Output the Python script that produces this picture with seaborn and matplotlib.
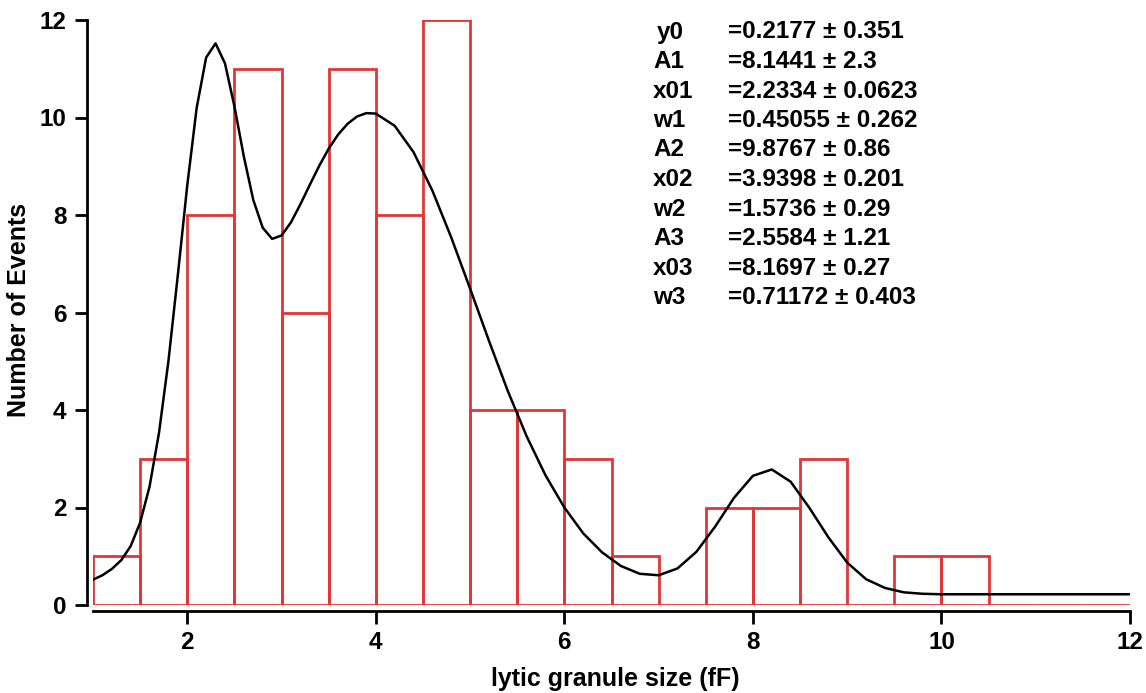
import numpy as np
import pandas as pd
import matplotlib
matplotlib.use("Agg")
import matplotlib.pyplot as plt
import seaborn as sns

# ---- data ----
bin_edges = [1.0, 1.5, 2.0, 2.5, 3.0, 3.5, 4.0, 4.5, 5.0, 5.5, 6.0, 6.5, 7.0,
             7.5, 8.0, 8.5, 9.0, 9.5, 10.0, 10.5, 11.0, 11.5, 12.0]
bin_counts = [1, 3, 8, 11, 6, 11, 8, 12, 4, 4, 3, 1, 0,
              2, 2, 3, 0, 1, 1, 0, 0, 0]

fit_x = [1.0, 1.1, 1.2, 1.3, 1.4, 1.5, 1.6, 1.7, 1.8, 1.9, 2.0, 2.1, 2.2, 2.3,
         2.4, 2.5, 2.6, 2.7, 2.8, 2.9, 3.0, 3.1, 3.2, 3.3, 3.4, 3.5, 3.6, 3.7,
         3.8, 3.9, 4.0, 4.2, 4.4, 4.6, 4.8, 5.0, 5.2, 5.4, 5.6, 5.8, 6.0, 6.2,
         6.4, 6.6, 6.8, 7.0, 7.2, 7.4, 7.6, 7.8, 8.0, 8.2, 8.4, 8.6, 8.8, 9.0,
         9.2, 9.4, 9.6, 9.8, 10.0, 10.5, 12.0]
fit_y = [0.52, 0.61, 0.74, 0.92, 1.21, 1.69, 2.43, 3.53, 5.00, 6.77, 8.61,
         10.20, 11.23, 11.52, 11.11, 10.23, 9.20, 8.31, 7.74, 7.51, 7.58,
         7.85, 8.22, 8.62, 9.01, 9.36, 9.65, 9.87, 10.02, 10.09, 10.08, 9.83,
         9.29, 8.50, 7.54, 6.49, 5.42, 4.39, 3.46, 2.66, 2.00, 1.47, 1.08,
         0.80, 0.64, 0.61, 0.75, 1.09, 1.61, 2.20, 2.65, 2.78, 2.53, 1.99,
         1.39, 0.87, 0.53, 0.35, 0.26, 0.23, 0.22, 0.22, 0.22]

param_names = ["y0", "A1", "x01", "w1", "A2", "x02", "w2", "A3", "x03", "w3"]
param_values = ["=0.2177 \u00b1 0.351", "=8.1441 \u00b1 2.3", "=2.2334 \u00b1 0.0623",
                "=0.45055 \u00b1 0.262", "=9.8767 \u00b1 0.86", "=3.9398 \u00b1 0.201",
                "=1.5736 \u00b1 0.29", "=2.5584 \u00b1 1.21", "=8.1697 \u00b1 0.27",
                "=0.71172 \u00b1 0.403"]

x_ticks = [2, 4, 6, 8, 10, 12]
y_ticks = [0, 2, 4, 6, 8, 10, 12]

# ---- plotting ----
sns.set_theme(style="white")
plt.rcParams["font.family"] = ["Liberation Sans", "DejaVu Sans"]
plt.rcParams["font.weight"] = "bold"
plt.rcParams["text.color"] = "black"
plt.rcParams["axes.labelcolor"] = "black"
plt.rcParams["xtick.color"] = "black"
plt.rcParams["ytick.color"] = "black"

fig = plt.figure(figsize=(11.46, 6.93), dpi=100)
ax = fig.add_axes([93 / 1146, 1 - 605 / 693, (1130 - 93) / 1146, (605 - 20) / 693])

centers = [(bin_edges[i] + bin_edges[i + 1]) / 2 for i in range(len(bin_counts))]
hist_df = pd.DataFrame({"size": centers, "count": bin_counts})
sns.histplot(data=hist_df, x="size", weights="count", bins=bin_edges,
             fill=False, element="bars", color="#e23636", linewidth=2.0, ax=ax)

fit_df = pd.DataFrame({"x": fit_x, "y": fit_y})
sns.lineplot(data=fit_df, x="x", y="y", color="black", linewidth=1.8, ax=ax,
             sort=False, zorder=5)

ax.set_xlim(1, 12)
ax.set_ylim(0, 12)
ax.set_xticks(x_ticks)
ax.set_yticks(y_ticks)
ax.tick_params(axis="both", which="major", direction="out", length=9, width=2,
               color="black", labelcolor="black", labelsize=17.5, pad=6,
               bottom=True, left=True)
for lab in ax.get_xticklabels() + ax.get_yticklabels():
    lab.set_fontweight("bold")

for side in ["top", "right"]:
    ax.spines[side].set_visible(False)
for side in ["left", "bottom"]:
    ax.spines[side].set_color("black")
    ax.spines[side].set_linewidth(2)
    ax.spines[side].set_position(("outward", 4))

ax.set_xlabel("lytic granule size (fF)", fontsize=18, fontweight="bold", color="black")
ax.set_ylabel("Number of Events", fontsize=18, fontweight="bold", color="black")
ax.xaxis.set_label_coords(0.504, (605 - 667) / 585)
ax.yaxis.set_label_coords((31 - 93) / 1037, 0.504)

# fit parameter table
y_top = 1 - 32 / 693
step = 29.5 / 693
for i, (n, v) in enumerate(zip(param_names, param_values)):
    yy = y_top - i * step
    nx = 657 if n == "y0" else 653
    fig.text(nx / 1146, yy, n, fontsize=17.5, fontweight="bold", va="center",
             ha="left", color="black")
    fig.text(728 / 1146, yy, v, fontsize=17.5, fontweight="bold", va="center",
             ha="left", color="black")

fig.savefig("out.png", dpi=100, facecolor="white")
